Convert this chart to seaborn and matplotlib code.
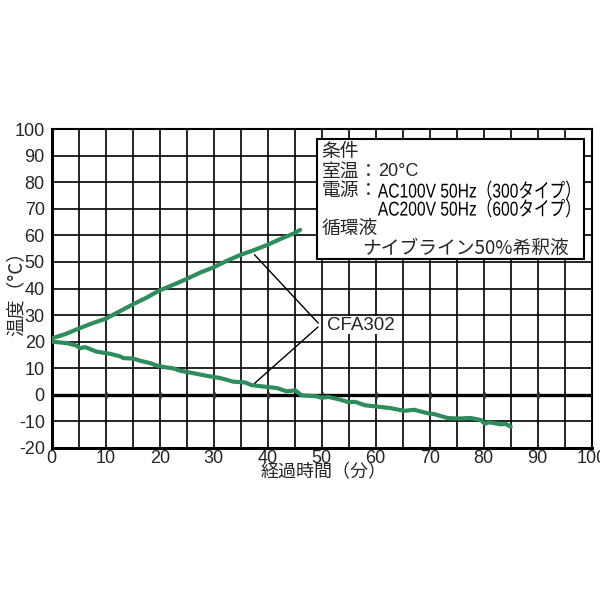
import numpy as np
import pandas as pd
import matplotlib
matplotlib.use("Agg")
import matplotlib.pyplot as plt
import seaborn as sns
from matplotlib.patches import Rectangle, PathPatch
from matplotlib.textpath import TextPath
from matplotlib.font_manager import FontProperties
from matplotlib.transforms import Affine2D

# ---- data ----
heat_time = [0, 2.5, 5, 7.5, 10, 12.5, 15, 17.5, 20, 22.5, 25, 27.5, 30, 32.5,
             35, 37.5, 40, 42.5, 45, 46]
heat_temp = [21.2, 22.8, 24.9, 26.9, 28.6, 31.3, 34.0, 36.5, 39.3, 41.4, 43.6,
             46.0, 48.0, 50.5, 52.7, 54.5, 56.5, 58.8, 60.9, 62.1]

cool_time = [0, 2.8, 4.6, 5.2, 6.2, 8.3, 10.8, 12.7, 13.3, 15.1, 16.4, 18.2,
             19.4, 20.7, 22.5, 23.8, 26.2, 28.7, 31.2, 32.4, 33.6, 35.8, 37.0,
             39.8, 41.7, 43.5, 45.1, 46.3, 49.0, 50.0, 51.2, 53.1, 54.9, 56.2,
             58.0, 60.3, 62.8, 65.3, 67.1, 69.6, 70.8, 73.3, 75.2, 77.6, 79.5,
             80.2, 81.0, 83.2, 84.1, 85.0]
cool_temp = [20.0, 19.4, 18.5, 17.5, 17.9, 16.2, 15.4, 14.4, 13.75, 13.6, 12.75,
             11.9, 11.0, 10.4, 9.9, 9.0, 8.1, 7.1, 6.25, 5.6, 4.9, 4.6, 3.6,
             2.9, 2.5, 1.25, 1.6, -0.25, -0.6, -1.2, -0.85, -1.7, -2.8, -2.7,
             -4.0, -4.5, -5.1, -6.1, -5.7, -7.0, -7.3, -8.8, -9.0, -8.8, -9.6,
             -11.0, -10.4, -11.2, -11.0, -12.1]

x_ticks = list(range(0, 101, 10))
y_ticks = list(range(-20, 101, 10))
xlabel = "経過時間（分）"
ylabel = "温度（°C）"
series_label = "CFA302"
cond_title = "条件"
cond_room = ["室温", "：", "20°C"]
cond_power = ["電源", "：", "AC100V 50Hz（300タイプ）", "AC200V 50Hz（600タイプ）"]
cond_fluid = ["循環液", "ナイブライン50%希釈液"]

df = pd.concat([
    pd.DataFrame({"time": heat_time, "temp": heat_temp, "series": "heat"}),
    pd.DataFrame({"time": cool_time, "temp": cool_temp, "series": "cool"}),
], ignore_index=True)

# ---- style ----
sns.set_style("white")
JP = ["Noto Sans CJK JP", "DejaVu Sans"]
LAT = ["Liberation Sans", "Noto Sans CJK JP", "DejaVu Sans"]
plt.rcParams["font.family"] = LAT

green = "#2f8c5c"

fig = plt.figure(figsize=(6, 6), dpi=100)
ax = fig.add_axes([0.0862, 0.2538, 0.9, 0.5307])
ax.set_xlim(0, 100)
ax.set_ylim(-20, 100)

sns.lineplot(data=df, x="time", y="temp", hue="series", units="series",
             estimator=None, sort=False, palette=[green, green], legend=False,
             linewidth=3.0, ax=ax, zorder=4)

ax.set_xlim(0, 100)
ax.set_ylim(-20, 100)
ax.set_xticks(x_ticks)
ax.set_xticks(list(range(5, 100, 10)), minor=True)
ax.set_yticks(y_ticks)
ax.set_xticklabels([str(v) for v in x_ticks], fontsize=13, family=LAT)
ax.set_yticklabels([str(v) for v in y_ticks], fontsize=13, family=LAT)
ax.tick_params(axis="x", which="both", length=0, pad=1.5)
ax.tick_params(axis="y", length=2, width=1, pad=3, direction="out", color="black")

ax.grid(True, which="major", axis="both", color="black", linewidth=1.2, zorder=1)
ax.grid(True, which="minor", axis="x", color="black", linewidth=1.2, zorder=1)
ax.set_axisbelow(True)
ax.axhline(0, color="black", linewidth=2.4, zorder=2)
ax.plot(x_ticks[1:-1], [0] * (len(x_ticks) - 2), linestyle="none", marker="|",
        markersize=5, markeredgewidth=2, color="#333333", zorder=3)

for s in ax.spines.values():
    s.set_visible(True)
    s.set_color("black")
    s.set_linewidth(1.5)
ax.spines["left"].set_linewidth(2.2)
ax.spines["bottom"].set_linewidth(2.2)

ax.set_xlabel(xlabel, fontsize=13, family=JP)
ax.xaxis.label.set_va("center")
ax.xaxis.set_label_coords(0.503, -0.078)
ax.set_ylabel(ylabel, fontsize=13.5, family=JP)
ax.yaxis.label.set_va("center")
ax.yaxis.set_label_coords(-0.066, 0.5)

# conditions box
ax.add_patch(Rectangle((49.1, 51.1), 49.5, 45.3, facecolor="white",
                       edgecolor="black", linewidth=1.5, zorder=5))
fs = 13.5


def jp_text(x, y, s, ha="left", family=JP, size=fs):
    ax.text(x, y, s, fontsize=size, family=family, va="center", ha=ha, zorder=6)


def condensed_text(x, y, s, size_px, sx):
    """Horizontally condensed text drawn as a path (left anchored)."""
    tp = TextPath((0, 0), s, size=size_px, prop=FontProperties(family=LAT))
    px, py = ax.transData.transform((x, y))
    tr = Affine2D().scale(sx, 1.0).translate(px, py - 0.36 * size_px)
    ax.add_patch(PathPatch(tp, transform=tr, facecolor="black",
                           edgecolor="none", zorder=6))


jp_text(50.0, 91.7, cond_title)
jp_text(50.0, 84.2, cond_room[0])
jp_text(58.7, 84.2, cond_room[1], ha="center")
jp_text(60.4, 84.2, cond_room[2], family=LAT, size=13)
jp_text(50.0, 77.0, cond_power[0])
jp_text(58.7, 77.0, cond_power[1], ha="center")
condensed_text(60.4, 77.0, cond_power[2], 20.0, 0.78)
condensed_text(60.4, 70.2, cond_power[3], 20.0, 0.78)
jp_text(50.0, 62.6, cond_fluid[0])
jp_text(57.4, 55.0, cond_fluid[1])

# series annotation
ax.annotate("", xy=(37.2, 53.5), xytext=(49.7, 26.2),
            arrowprops=dict(arrowstyle="-", color="black", lw=1.0), zorder=6)
ax.annotate("", xy=(37.2, 3.6), xytext=(49.7, 26.2),
            arrowprops=dict(arrowstyle="-", color="black", lw=1.0), zorder=6)
ax.text(51.0, 26.2, series_label, fontsize=13.5, family=LAT, va="center", ha="left",
        zorder=6, bbox=dict(facecolor="white", edgecolor="none", pad=0.5))

fig.savefig("out.png", dpi=100)
